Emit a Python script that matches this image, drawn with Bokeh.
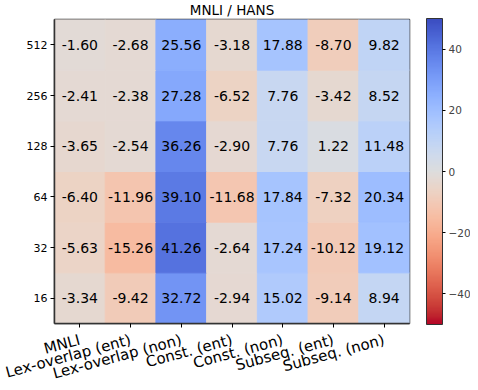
import numpy as np
from bokeh.plotting import figure
from bokeh.models import ColumnDataSource, LinearColorMapper, ColorBar, FixedTicker
from bokeh.transform import transform
from bokeh.core.properties import value
from bokeh.embed import file_html
from bokeh.resources import INLINE

columns = ["MNLI", "Lex-overlap (ent)", "Lex-overlap (non)", "Const. (ent)",
           "Const. (non)", "Subseq. (ent)", "Subseq. (non)"]
rows = ["16", "32", "64", "128", "256", "512"]

vals_16 = [-3.34, -9.42, 32.72, -2.94, 15.02, -9.14, 8.94]
vals_32 = [-5.63, -15.26, 41.26, -2.64, 17.24, -10.12, 19.12]
vals_64 = [-6.40, -11.96, 39.10, -11.68, 17.84, -7.32, 20.34]
vals_128 = [-3.65, -2.54, 36.26, -2.90, 7.76, 1.22, 11.48]
vals_256 = [-2.41, -2.38, 27.28, -6.52, 7.76, -3.42, 8.52]
vals_512 = [-1.60, -2.68, 25.56, -3.18, 17.88, -8.70, 9.82]
row_values = [vals_16, vals_32, vals_64, vals_128, vals_256, vals_512]

cbar_ticks = [-40, -20, 0, 20, 40]
title_text = "MNLI / HANS"

# coolwarm reference table (Moreland), used to build a reversed palette
cw = [
    (59, 76, 192), (68, 90, 204), (77, 104, 215), (87, 117, 225), (98, 130, 234),
    (108, 142, 241), (119, 154, 247), (130, 165, 251), (141, 176, 254), (152, 185, 255),
    (163, 194, 255), (174, 201, 253), (184, 208, 249), (194, 213, 244), (204, 217, 238),
    (213, 219, 230), (221, 221, 221), (229, 216, 209), (236, 211, 197), (241, 204, 185),
    (245, 196, 173), (247, 187, 160), (247, 177, 148), (247, 166, 135), (244, 154, 123),
    (241, 141, 111), (236, 127, 99), (229, 112, 88), (222, 96, 77), (213, 80, 66),
    (203, 62, 56), (192, 40, 47), (180, 4, 38)]
cw = np.array(cw, dtype=float)
kp = np.linspace(0, 1, len(cw))
ts = np.linspace(0, 1, 256)
pal = []
for t in ts:
    r = np.interp(t, kp, cw[:, 0]); g = np.interp(t, kp, cw[:, 1]); b = np.interp(t, kp, cw[:, 2])
    pal.append("#%02x%02x%02x" % (int(round(r)), int(round(g)), int(round(b))))
palette = pal[::-1]

mapper = LinearColorMapper(palette=palette, low=-50, high=50)

xs, ys, vs, labels = [], [], [], []
for r, vals in zip(rows, row_values):
    for c, v in zip(columns, vals):
        xs.append(c); ys.append(r); vs.append(v); labels.append(f"{v:.2f}")
src = ColumnDataSource(dict(x=xs, y=ys, v=vs, label=labels))

FONT = "DejaVu Sans"
FW, FH = 355, 304
p = figure(x_range=columns, y_range=rows, frame_width=FW, frame_height=FH,
           min_border_left=54, min_border_right=61, min_border_bottom=59, min_border_top=19,
           output_backend="svg", toolbar_location=None, title=title_text)
p.rect(x="x", y="y", width=1, height=1, source=src,
       fill_color=transform("v", mapper), line_color=transform("v", mapper), line_width=1)
p.text(x="x", y="y", text="label", source=src, text_align="center", text_baseline="middle",
       text_font=value(FONT), text_font_size="14px", text_color="black")

p.title.align = "center"
p.title.text_font = FONT
p.title.text_font_size = "13.5px"
p.title.text_font_style = "normal"
p.title.text_color = "black"
p.title.standoff = 0
p.title.vertical_align = "top"

p.grid.visible = False
p.outline_line_color = "#333333"
p.outline_line_width = 1.5
for ax in p.axis:
    ax.axis_line_color = "#333333"
    ax.axis_line_width = 1.5
    ax.major_tick_line_color = "black"
    ax.major_tick_out = 4
    ax.major_tick_in = 0
    ax.minor_tick_line_color = None
    ax.major_label_text_font = FONT
    ax.major_label_text_color = "black"
    ax.major_label_standoff = 3
p.xaxis.major_label_text_font_size = "15px"
p.xaxis.major_label_orientation = np.deg2rad(15)
p.xaxis.major_label_standoff = 12
p.yaxis.major_label_text_font_size = "11px"

cb = ColorBar(color_mapper=mapper, ticker=FixedTicker(ticks=cbar_ticks),
              width=16, height=306, padding=0, margin=0, location=(FW + 17, -1),
              major_label_overrides={-40: "\u221240", -20: "\u221220"},
              major_label_text_font=FONT, major_label_text_font_size="10.5px",
              major_tick_line_color="black", major_tick_out=3, major_tick_in=0,
              minor_tick_line_color=None, bar_line_color="#333333", bar_line_width=1,
              label_standoff=3, background_fill_alpha=0, border_line_color=None)
p.add_layout(cb)

open("out.html", "w").write(file_html(p, INLINE))
